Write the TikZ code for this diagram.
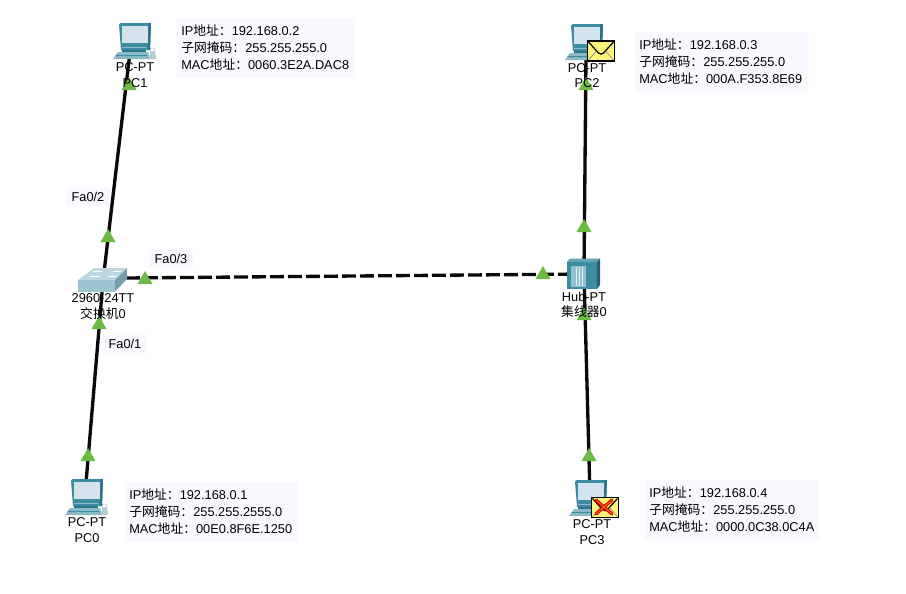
\documentclass[tikz,border=0pt]{standalone}
\usepackage{fontspec}
\setmainfont{Liberation Sans}
\newfontfamily\cjk{Noto Sans CJK SC}
\definecolor{cable}{HTML}{0A0A0A}
\definecolor{tri}{HTML}{6CBB45}
\definecolor{infobg}{HTML}{F8F8FF}
\definecolor{scrA}{HTML}{3E8CA3}
\definecolor{scrB}{HTML}{D2E3EC}
\definecolor{scrC}{HTML}{2F7187}
\definecolor{baseA}{HTML}{8DBAC8}
\definecolor{envY}{HTML}{FDF27A}
\newcommand{\txtsize}{\fontsize{9.6pt}{12.75pt}\selectfont}
\tikzset{
  x=0.75pt,y=-0.75pt,
  link/.style={line width=2.5pt,draw=cable},
  dashlink/.style={link,dash pattern=on 10.5pt off 3pt},
  mark tri/.style={fill=tri,draw=none},
  info/.style={fill=infobg,draw=none,anchor=north west,inner sep=0pt,text width=#1,minimum height=44.5pt,align=left,font=\txtsize,inner xsep=3pt},
  portlabel/.style={fill=infobg,draw=none,font=\txtsize,inner xsep=4pt,inner ysep=3.5pt},
  devlabel/.style={font=\txtsize,align=center,inner sep=0pt,text height=7pt,text depth=0pt},
  pcicon/.pic={
    % mouse and cord
    \fill[baseA!70!white] (31,28) -- (36,28) -- (37,36) -- (30,36) -- cycle;
    \draw[gray!60,line width=.4pt] (30,26) .. controls (34,24) and (37,25) .. (36,28);
    % stand and base
    \fill[scrC] (3,26) rectangle (27,29);
    \fill[baseA] (-6,36) -- (-1,29) -- (29,29) -- (31,36) -- cycle;
    \fill[scrA] (-3,32.2) -- (28,32.2) -- (28.4,33) -- (-3.6,33) -- cycle;
    % monitor
    \fill[scrA] (0,1.5) -- (1.5,0) -- (32,0) -- (31,27) -- (2,27) -- cycle;
    \fill[scrC] (29.5,0) -- (32,0) -- (31,27) -- (28.5,27) -- cycle;
    \fill[scrB] (2.5,3) rectangle (28.5,20);
    \fill[baseA] (3,24) rectangle (27,25);
  },
  envelope/.pic={
    \fill[envY,draw=black,line width=1.3pt] (0,0) rectangle (27,20);
    \draw[black,line width=.9pt] (1,1) -- (11,12) .. controls (12.5,13.5) and (14.5,13.5) .. (16,12) -- (26,1);
    \draw[gray,line width=.4pt] (1,19) -- (9,10) (26,19) -- (18,10);
  }
}
\newcommand{\tmark}[2]{\fill[mark tri] (#1-7.5,#2+6) -- (#1,#2-7) -- (#1+7.5,#2+6) -- cycle;}
\newcommand{\infotext}[3]{IP{\cjk 地址：}#1\\{\cjk 子网掩码：}#2\\MAC{\cjk 地址：}#3}
\begin{document}
\begin{tikzpicture}
\useasboundingbox (0,0) rectangle (906,593);
\fill[white] (0,0) rectangle (906,593);
% anchor points of the devices
\coordinate (pc1) at (130,52);
\coordinate (pc2) at (586,55);
\coordinate (pc0) at (85,495);
\coordinate (pc3) at (590,495);
\coordinate (sw) at (103,281);
\coordinate (hub) at (584,274);
% connectors
\draw[link] (pc1) -- (sw);
\draw[link] (pc2) -- (hub);
\draw[link] (pc0) -- (sw);
\draw[link] (pc3) -- (hub);
\coordinate (swe) at (126,278);
\draw[dashlink] (swe) -- (hub);
% PC icons
\pic at (119,23) {pcicon};
\pic at (571,24) {pcicon};
\pic at (71,479) {pcicon};
\pic at (575,480) {pcicon};
% switch
\fill[scrB!70!baseA] (78,280) -- (94,268) -- (127,268) -- (115,280) -- cycle;
\fill[baseA!75!scrB] (78,280) rectangle (115,291.5);
\fill[baseA!85!black] (115,280) -- (127,268) -- (127,279) -- (115,291.5) -- cycle;
\draw[white,line width=.6pt] (90,276.5) -- (100,276.5) (113,271.5) -- (121,271.5) (93,271.5) -- (102,271.5) (108,276) -- (116,276);
% hub
\fill[scrA!80!white] (567,262) -- (570,258.5) -- (600,258.5) -- (597,262) -- cycle;
\fill[scrA] (567,262) rectangle (597,289);
\fill[scrC!85!black] (597,262) -- (600,258.5) -- (600,285) -- (597,289) -- cycle;
\fill[scrA!55!white] (571,266) rectangle (586,287);
\draw[white!85!scrA,line width=.5pt] (576,267) -- (576,286) (579,267) -- (579,286) (582,267) -- (582,286);
% green link marks
\tmark{129}{84}\tmark{586}{84}
\tmark{108}{236}\tmark{584}{226}
\tmark{145}{278}\tmark{543}{273}
\tmark{99}{323}\tmark{584}{314}
\tmark{88}{455}\tmark{589}{455}
% envelopes
\pic at (587.5,41) {envelope};
\pic at (591.5,497.5) {envelope};
\draw[red!85!black,line width=2.4pt,line cap=round] (596,500) -- (612,514) (612,500) -- (596,514);
\draw[orange,line width=.6pt] (596,500) -- (612,514) (612,500) -- (596,514);
% device labels
\node[devlabel] (lpc1a) at (135,67) {PC-PT};
\node[devlabel] (lpc1b) at (135,83) {PC1};
\node[devlabel] (lpc2a) at (587,68) {PC-PT};
\node[devlabel] (lpc2b) at (587,83) {PC2};
\node[devlabel] (lpc0a) at (87,522) {PC-PT};
\node[devlabel] (lpc0b) at (87,538) {PC0};
\node[devlabel] (lpc3a) at (592,524) {PC-PT};
\node[devlabel] (lpc3b) at (592,540) {PC3};
\node[devlabel] (lswa) at (103,298) {2960-24TT};
\node[devlabel] (lswb) at (103,314) {{\cjk 交换机}0};
\node[devlabel] (lhuba) at (584,297) {Hub-PT};
\node[devlabel] (lhubb) at (584,312) {{\cjk 集线器}0};
% port labels
\node[portlabel] (fa2) at (88,197) {Fa0/2};
\node[portlabel] (fa3) at (171,259) {Fa0/3};
\node[portlabel] (fa1) at (125,344) {Fa0/1};
% info boxes
\node[info=127.5pt] (i1) at (177,18) {\infotext{192.168.0.2}{255.255.255.0}{0060.3E2A.DAC8}};
\node[info=123.75pt] (i2) at (635,32) {\infotext{192.168.0.3}{255.255.255.0}{000A.F353.8E69}};
\node[info=123.75pt] (i0) at (125,482) {\infotext{192.168.0.1}{255.255.2555.0}{00E0.8F6E.1250}};
\node[info=124.5pt] (i3) at (645,480) {\infotext{192.168.0.4}{255.255.255.0}{0000.0C38.0C4A}};
\end{tikzpicture}
\end{document}
